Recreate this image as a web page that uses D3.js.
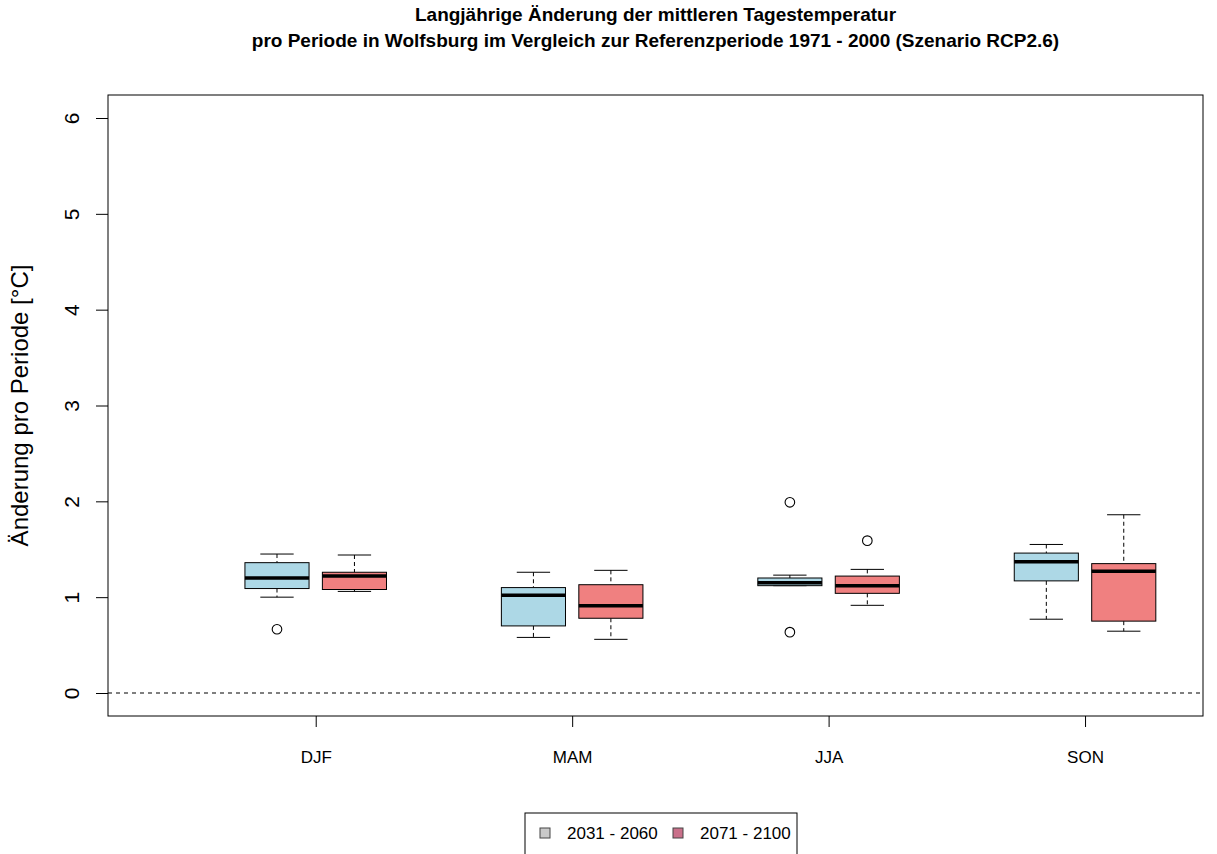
<!DOCTYPE html>
<html>
<head>
<meta charset="utf-8">
<script src="https://cdn.jsdelivr.net/npm/d3@7"></script>
<style>
  html, body { margin: 0; padding: 0; background: #fff; }
  svg { display: block; font-family: "Liberation Sans", Arial, sans-serif; }
</style>
</head>
<body>
<svg id="chart" width="1217" height="854"></svg>
<script>
// Seasons and scenario periods
const seasons = ["DJF", "MAM", "JJA", "SON"];
const periods = ["2031 - 2060", "2071 - 2100"];
const yTicks = [0, 1, 2, 3, 4, 5, 6];

// Box statistics per season, 2031 - 2060
const lo2031  = [1.00, 0.58, 1.12, 0.77];
const q1_2031 = [1.09, 0.70, 1.12, 1.17];
const med2031 = [1.20, 1.02, 1.15, 1.37];
const q3_2031 = [1.36, 1.10, 1.20, 1.46];
const hi2031  = [1.45, 1.26, 1.23, 1.55];
const out2031 = [[0.665], [], [1.99, 0.635], []];

// Box statistics per season, 2071 - 2100
const lo2071  = [1.06, 0.56, 0.915, 0.645];
const q1_2071 = [1.08, 0.78, 1.04, 0.75];
const med2071 = [1.22, 0.91, 1.12, 1.27];
const q3_2071 = [1.26, 1.13, 1.22, 1.35];
const hi2071  = [1.44, 1.28, 1.29, 1.86];
const out2071 = [[], [], [1.59], []];

const fills = ["#add8e6", "#f08080"];
const legendFills = ["#c9c9c9", "#c9708a"];

const svg = d3.select("#chart");
const plot = { left: 108, right: 1203, top: 95, bottom: 716 };

const x = d3.scaleLinear().domain([-0.81, 3.46]).range([plot.left, plot.right]);
const y = d3.scaleLinear().domain([-0.24, 6.24]).range([plot.bottom, plot.top]);

const boxOffset = 0.151;   // distance of each box from its season centre
const boxHalf = 0.125;     // half box width in season units
const capHalf = 0.065;

// Title
svg.append("text").attr("x", 655.5).attr("y", 21).attr("text-anchor", "middle")
  .attr("font-size", 19).attr("font-weight", "bold")
  .text("Langjährige Änderung der mittleren Tagestemperatur");
svg.append("text").attr("x", 655.5).attr("y", 47).attr("text-anchor", "middle")
  .attr("font-size", 19).attr("font-weight", "bold")
  .text("pro Periode in Wolfsburg im Vergleich zur Referenzperiode 1971 - 2000 (Szenario RCP2.6)");

// Zero reference line
svg.append("line")
  .attr("x1", plot.left).attr("x2", plot.right)
  .attr("y1", y(0)).attr("y2", y(0))
  .attr("stroke", "#000").attr("stroke-width", 1.2).attr("stroke-dasharray", "4,4");

// Boxplots
const groups = [
  { lo: lo2031, q1: q1_2031, med: med2031, q3: q3_2031, hi: hi2031, out: out2031, dx: -boxOffset, fill: fills[0] },
  { lo: lo2071, q1: q1_2071, med: med2071, q3: q3_2071, hi: hi2071, out: out2071, dx: boxOffset, fill: fills[1] }
];

groups.forEach(g => {
  seasons.forEach((s, i) => {
    const c = i + g.dx;
    const gg = svg.append("g");
    // whiskers (dashed)
    gg.append("line").attr("x1", x(c)).attr("x2", x(c))
      .attr("y1", y(g.hi[i])).attr("y2", y(g.q3[i]))
      .attr("stroke", "#000").attr("stroke-dasharray", "4,3");
    gg.append("line").attr("x1", x(c)).attr("x2", x(c))
      .attr("y1", y(g.q1[i])).attr("y2", y(g.lo[i]))
      .attr("stroke", "#000").attr("stroke-dasharray", "4,3");
    // caps
    [g.hi[i], g.lo[i]].forEach(v => {
      gg.append("line").attr("x1", x(c - capHalf)).attr("x2", x(c + capHalf))
        .attr("y1", y(v)).attr("y2", y(v)).attr("stroke", "#000");
    });
    // box
    gg.append("rect")
      .attr("x", x(c - boxHalf)).attr("width", x(c + boxHalf) - x(c - boxHalf))
      .attr("y", y(g.q3[i])).attr("height", y(g.q1[i]) - y(g.q3[i]))
      .attr("fill", g.fill).attr("stroke", "#000").attr("stroke-width", 1);
    // median
    gg.append("line").attr("x1", x(c - boxHalf)).attr("x2", x(c + boxHalf))
      .attr("y1", y(g.med[i])).attr("y2", y(g.med[i]))
      .attr("stroke", "#000").attr("stroke-width", 3.5);
    // outliers
    g.out[i].forEach(v => {
      gg.append("circle").attr("cx", x(c)).attr("cy", y(v)).attr("r", 4.8)
        .attr("fill", "none").attr("stroke", "#000").attr("stroke-width", 1.1);
    });
  });
});

// Plot frame
svg.append("rect")
  .attr("x", plot.left).attr("y", plot.top)
  .attr("width", plot.right - plot.left).attr("height", plot.bottom - plot.top)
  .attr("fill", "none").attr("stroke", "#000").attr("stroke-width", 1);

// Y axis with vertical tick labels
const yAxis = svg.append("g").attr("transform", `translate(${plot.left},0)`)
  .call(d3.axisLeft(y).tickValues(yTicks).tickSize(12).tickSizeOuter(0).tickFormat(d3.format("d")));
yAxis.select(".domain").remove();
yAxis.selectAll(".tick text")
  .attr("font-family", "Liberation Sans, Arial, sans-serif").attr("font-size", 21)
  .attr("transform", "rotate(-90)")
  .attr("x", 0).attr("y", -36).attr("dy", "0.35em")
  .attr("text-anchor", "middle");

// X axis
const xAxis = svg.append("g").attr("transform", `translate(0,${plot.bottom})`)
  .call(d3.axisBottom(x).tickValues(d3.range(seasons.length)).tickSize(11).tickSizeOuter(0)
    .tickFormat(i => seasons[i]));
xAxis.select(".domain").remove();
xAxis.selectAll(".tick text")
  .attr("font-family", "Liberation Sans, Arial, sans-serif").attr("font-size", 17)
  .attr("y", 35);

// Y axis title
svg.append("text")
  .attr("transform", `translate(19,${(plot.top + plot.bottom) / 2}) rotate(-90)`)
  .attr("text-anchor", "middle").attr("dominant-baseline", "central").attr("font-size", 24)
  .text("Änderung pro Periode [°C]");

// Legend
const legend = svg.append("g");
legend.append("rect").attr("x", 525).attr("y", 813).attr("width", 272).attr("height", 50)
  .attr("fill", "#fff").attr("stroke", "#000");
const legendX = [540, 673];
periods.forEach((p, i) => {
  legend.append("rect").attr("x", legendX[i]).attr("y", 828).attr("width", 10).attr("height", 10)
    .attr("fill", legendFills[i]).attr("stroke", "#444");
  legend.append("text").attr("x", legendX[i] + 27).attr("y", 839).attr("font-size", 17)
    .text(p);
});
</script>
</body>
</html>
